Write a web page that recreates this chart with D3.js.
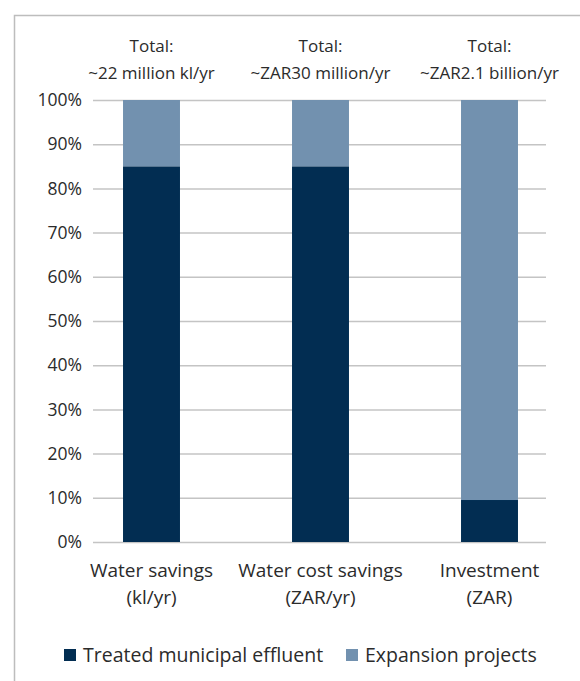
<!DOCTYPE html>
<html>
<head>
<meta charset="utf-8">
<script src="https://cdn.jsdelivr.net/npm/d3@7"></script>
<style>
  body { margin: 0; background: #fff; }
  text { font-family: "Open Sans", sans-serif; fill: #2b2b2b; }
</style>
</head>
<body>
<div id="chart"></div>
<script>
// Chart data
const categories = ['Water savings', 'Water cost savings', 'Investment'];
const categoryUnits = ['(kl/yr)', '(ZAR/yr)', '(ZAR)'];
const totals = ['~22 million kl/yr', '~ZAR30 million/yr', '~ZAR2.1 billion/yr'];
const treatedEffluent = [85, 85, 9.5];
const expansionProjects = [15, 15, 90.5];
const seriesNames = ['Treated municipal effluent', 'Expansion projects'];
const seriesColors = ['#022d52', '#7291af'];
const yTicks = [0, 10, 20, 30, 40, 50, 60, 70, 80, 90, 100];

const width = 580;
const height = 681;

const svg = d3.select('#chart')
  .append('svg')
  .attr('width', width)
  .attr('height', height);

// Frame (top and left edges only, rest runs off the page)
svg.append('path')
  .attr('d', `M14.5,${height} V15.5 H${width}`)
  .attr('fill', 'none')
  .attr('stroke', '#bdbdbd')
  .attr('stroke-width', 1.5);

const x = d3.scaleBand()
  .domain(categories)
  .range([67, 574])
  .paddingInner(0.663)
  .paddingOuter(0.3315);

const y = d3.scaleLinear()
  .domain([0, 100])
  .range([542, 100]);

// Gridlines and y tick labels
const yAxis = svg.append('g')
  .attr('transform', 'translate(93,0)')
  .call(
    d3.axisLeft(y)
      .tickValues(yTicks)
      .tickSize(-453)
      .tickFormat(d => d + '%')
  );
yAxis.select('.domain').remove();
yAxis.selectAll('.tick line')
  .attr('stroke', '#c4c4c4')
  .attr('stroke-width', 1.5);
yAxis.selectAll('.tick text')
  .attr('font-size', 17.5)
  .attr('fill', '#2b2b2b')
  .attr('x', -11)
  .attr('font-family', '"Open Sans", sans-serif');

// Stacked bars
const rows = categories.map((c, i) => ({
  category: c,
  treated: treatedEffluent[i],
  expansion: expansionProjects[i]
}));
const stack = d3.stack().keys(['treated', 'expansion']);
const layers = stack(rows);

svg.append('g')
  .selectAll('g')
  .data(layers)
  .join('g')
  .attr('fill', (d, i) => seriesColors[i])
  .selectAll('rect')
  .data(d => d)
  .join('rect')
  .attr('x', d => x(d.data.category))
  .attr('width', x.bandwidth())
  .attr('y', d => y(d[1]))
  .attr('height', d => y(d[0]) - y(d[1]));

// Totals above bars
const totalGroup = svg.append('g')
  .attr('text-anchor', 'middle')
  .attr('font-size', 17);
categories.forEach((c, i) => {
  const cx = x(c) + x.bandwidth() / 2;
  totalGroup.append('text').attr('x', cx).attr('y', 52).text('Total:');
  totalGroup.append('text').attr('x', cx).attr('y', 79).text(totals[i]);
});

// Category labels
const catGroup = svg.append('g')
  .attr('text-anchor', 'middle')
  .attr('font-size', 19);
categories.forEach((c, i) => {
  const cx = x(c) + x.bandwidth() / 2;
  catGroup.append('text').attr('x', cx).attr('y', 577).text(c);
  catGroup.append('text').attr('x', cx).attr('y', 604).text(categoryUnits[i]);
});

// Legend
const legendX = [64, 346];
const legend = svg.append('g')
  .selectAll('g')
  .data(seriesNames)
  .join('g')
  .attr('transform', (d, i) => `translate(${legendX[i]},649)`);
legend.append('rect')
  .attr('width', 12)
  .attr('height', 12)
  .attr('fill', (d, i) => seriesColors[i]);
legend.append('text')
  .attr('x', 19)
  .attr('y', 12.5)
  .attr('font-size', 19.5)
  .text(d => d);
</script>
</body>
</html>
